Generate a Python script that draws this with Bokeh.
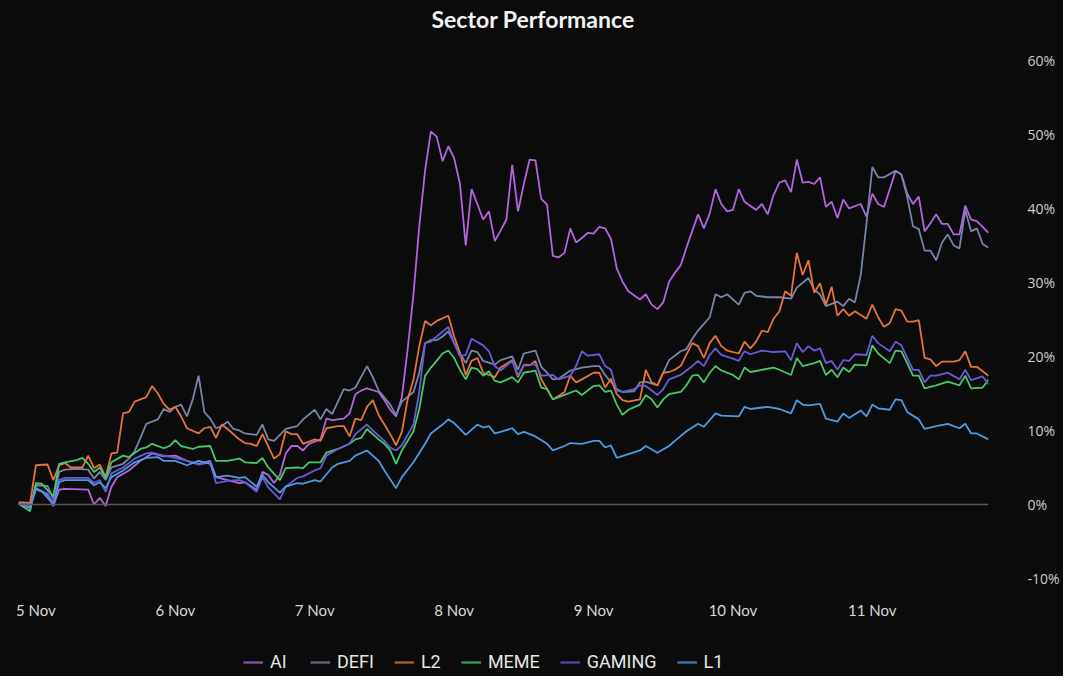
from bokeh.plotting import figure
from bokeh.layouts import column
from bokeh.models import FixedTicker, PrintfTickFormatter, Span, Legend, LegendItem, Title
from bokeh.embed import file_html
from bokeh.resources import INLINE

# ---- data: (hour since 5 Nov 00:00, % change) ----
TICK_HOURS = [3, 27, 51, 75, 99, 123, 147]
TICK_LABELS = ["5 Nov", "6 Nov", "7 Nov", "8 Nov", "9 Nov", "10 Nov", "11 Nov"]
Y_TICKS = [-10, 0, 10, 20, 30, 40, 50, 60]

AI = [(0,0.2),(2,-0.3),(3,2.2),(5,1.3),(6,-0.2),(7,2.0),(8,2.1),(12,2.0),(13,0.0),(14,0.9),(15,-0.2),(16,2.4),
      (17,3.7),(19,4.6),(21,5.9),(23,6.9),(25,6.5),(27,6.6),(29,5.9),(31,5.5),(33,5.9),(34,3.7),(36,3.3),(38,2.9),
      (39,3.0),(41,2.0),(42,4.4),(43,4.0),(44,2.9),(45,4.0),(46,6.9),(47,7.9),(48,7.9),(49,7.3),(50,8.2),(52,8.8),
      (53,11.6),(54,11.4),(56,11.6),(57,12.3),(58,14.9),(59,15.4),(60,15.7),(62,15.2),(63,14.1),(64,12.8),(65,11.9),
      (66,14.5),(67,21.0),(68,28.4),(69,37.6),(70,45.1),(71,50.4),(72,49.7),(73,46.4),(74,48.4),(75,46.8),(76,43.3),
      (77,35.0),(78,42.6),(79,40.6),(80,38.5),(81,39.6),(82,35.6),(83,37.0),(84,38.5),(85,45.9),(86,39.6),(87,43.3),
      (88,46.6),(89,46.5),(90,41.3),(91,40.5),(92,33.6),(93,33.4),(94,34.0),(95,37.3),(96,35.4),(97,36.0),(98,36.7),
      (99,36.6),(100,37.5),(101,37.3),(102,35.9),(103,31.9),(104,30.1),(105,28.8),(107,27.7),(108,28.4),(109,27.0),
      (110,26.4),(111,27.3),(112,30.1),(113,31.3),(114,32.3),(115,34.7),(117,39.2),(118,37.3),(119,39.3),(120,42.6),
      (121,40.6),(122,39.6),(123,39.8),(124,42.6),(125,40.9),(127,39.8),(128,40.6),(129,39.2),(130,41.8),(131,43.5),
      (132,43.8),(133,42.2),(134,46.6),(135,43.5),(136,43.6),(137,43.3),(138,44.2),(139,40.2),(140,40.9),(141,38.7),
      (142,41.2),(143,40.0),(145,40.6),(146,38.9),(147,42.0),(148,40.6),(149,40.2),(150,42.6),(151,45.1),(152,44.6),
      (153,42.0),(154,40.6),(155,41.6),(156,36.9),(157,38.0),(158,39.2),(159,37.9),(160,37.9),(161,36.5),(162,36.5),
      (163,40.4),(164,38.5),(165,38.3),(167,36.7)]

DEFI = [(0,0.2),(2,-0.2),(3,2.6),(5,2.5),(6,0.8),(7,4.4),(8,4.7),(10,4.8),(12,4.7),(13,3.5),(14,4.4),(15,3.3),
        (16,5.0),(18,5.5),(19,6.2),(20,7.2),(21,9.0),(22,10.9),(24,11.5),(25,12.9),(26,12.5),(27,13.2),(28,13.5),
        (29,11.9),(30,14.2),(31,17.4),(32,12.5),(33,11.6),(34,10.3),(35,10.6),(36,11.2),(37,10.2),(38,10.0),(39,9.6),
        (41,9.4),(42,10.8),(43,8.8),(44,8.6),(46,10.2),(48,10.6),(49,11.5),(51,12.8),(52,11.5),(53,12.9),(54,12.2),
        (56,15.6),(57,15.4),(58,15.8),(60,18.7),(61,17.2),(62,15.4),(64,13.5),(65,12.1),(66,13.9),(68,15.2),(69,17.8),
        (70,21.8),(71,22.2),(72,22.2),(73,22.7),(74,23.4),(75,21.8),(77,19.1),(78,20.8),(79,20.6),(80,19.4),(82,18.9),
        (83,19.5),(85,20.0),(86,18.2),(87,20.4),(89,20.8),(90,18.6),(91,17.8),(92,16.9),(93,17.0),(95,18.1),(97,18.5),
        (99,18.7),(100,18.7),(101,17.5),(103,15.6),(104,15.2),(106,15.3),(107,16.5),(108,16.6),(110,16.1),(111,17.8),
        (112,19.5),(114,20.7),(115,21.0),(116,22.4),(117,23.5),(119,25.3),(120,28.4),(121,28.0),(122,28.4),(124,27.0),
        (125,28.6),(126,28.8),(127,28.2),(129,28.0),(131,28.0),(133,27.8),(134,29.3),(136,30.6),(137,29.0),(138,28.4),
        (139,26.8),(141,27.4),(142,26.8),(143,27.8),(144,27.3),(145,31.0),(146,38.0),(147,45.6),(148,44.2),(149,44.2),
        (151,45.1),(152,44.6),(153,41.6),(154,37.6),(155,37.2),(156,34.3),(157,34.3),(158,33.0),(159,35.4),(160,36.5),
        (161,35.0),(162,34.6),(163,39.8),(164,36.9),(165,37.3),(166,35.2),(167,34.7)]

L2 = [(0,0.3),(2,0.2),(3,5.3),(5,5.4),(6,3.3),(7,5.3),(8,5.6),(9,5.0),(11,5.0),(12,6.6),(13,4.9),(14,5.4),(15,3.7),
      (16,6.9),(17,7.0),(18,12.3),(19,12.5),(20,13.9),(21,14.2),(22,14.5),(23,16.0),(24,15.0),(25,13.6),(26,12.8),
      (27,13.2),(28,11.9),(29,10.3),(31,9.6),(32,10.3),(33,10.5),(34,9.0),(35,10.8),(36,10.2),(38,8.8),(39,8.3),
      (40,8.2),(41,7.9),(42,9.5),(44,6.2),(45,6.8),(46,9.9),(47,9.5),(48,9.5),(49,8.2),(51,8.8),(52,8.6),(53,10.3),
      (55,10.6),(56,10.6),(57,9.2),(58,11.6),(59,11.4),(60,13.2),(61,14.1),(62,12.1),(63,10.8),(64,9.5),(65,8.0),
      (66,9.8),(67,14.2),(68,16.9),(69,21.4),(70,24.8),(71,24.2),(72,24.8),(74,25.5),(75,22.7),(76,20.5),(77,17.5),
      (78,19.4),(79,19.8),(80,17.8),(82,17.2),(83,18.5),(85,19.5),(86,17.2),(87,18.8),(88,18.8),(89,19.4),(90,16.9),
      (91,15.6),(92,14.2),(94,15.2),(95,17.4),(96,16.5),(97,16.9),(99,17.8),(100,17.8),(101,15.8),(102,17.0),
      (103,14.9),(104,14.1),(105,13.9),(107,14.2),(108,18.2),(109,16.5),(110,16.1),(111,17.8),(112,17.9),(113,18.2),
      (114,18.7),(116,21.8),(117,21.4),(118,19.8),(119,21.8),(120,22.8),(121,21.4),(122,20.8),(124,20.4),(125,22.0),
      (126,21.1),(127,22.0),(128,23.5),(129,23.3),(130,25.1),(131,26.1),(132,28.8),(133,28.2),(134,34.0),(135,31.0),
      (136,33.0),(137,28.6),(138,29.9),(139,27.0),(140,29.4),(141,25.5),(142,26.4),(143,25.5),(144,26.1),(146,25.1),
      (147,27.0),(148,25.3),(149,24.0),(150,24.5),(151,26.4),(152,26.2),(153,24.7),(154,24.7),(155,24.9),(156,19.8),
      (157,19.6),(158,18.7),(159,19.3),(161,19.3),(162,19.5),(163,20.7),(164,18.6),(165,18.6),(167,17.4)]

MEME = [(0,0.1),(2,-0.9),(3,2.9),(4,2.8),(6,1.1),(7,5.5),(8,5.7),(10,6.0),(11,6.3),(12,5.5),(13,4.4),(14,5.0),
        (15,3.6),(16,5.7),(18,6.6),(19,6.4),(21,7.5),(22,7.7),(23,8.2),(25,7.6),(26,7.9),(27,8.7),(28,7.9),(30,7.5),
        (31,7.8),(33,7.9),(34,5.9),(36,5.9),(38,6.2),(39,5.7),(41,5.6),(42,6.3),(43,5.0),(45,3.3),(46,4.9),(48,5.0),
        (49,4.9),(50,5.7),(52,5.7),(53,7.0),(55,7.5),(57,8.2),(58,8.8),(59,9.0),(60,10.2),(62,8.8),(63,8.2),(64,7.3),
        (65,5.5),(66,7.3),(68,9.9),(69,12.9),(70,17.4),(71,18.5),(72,19.4),(73,20.4),(74,20.8),(75,19.8),(76,18.2),
        (77,16.9),(78,18.5),(79,18.3),(80,17.4),(81,18.0),(82,16.7),(83,16.5),(85,17.2),(86,16.5),(87,17.8),(89,18.1),
        (90,15.8),(91,15.6),(92,14.2),(94,14.8),(96,15.4),(97,14.8),(99,16.0),(100,16.1),(101,15.2),(102,15.4),
        (103,13.5),(104,12.1),(105,12.8),(107,13.5),(108,14.8),(109,14.2),(110,13.1),(111,14.2),(112,14.9),(114,15.2),
        (115,16.1),(116,17.4),(117,17.5),(118,16.5),(119,17.8),(120,18.7),(121,18.1),(123,17.5),(124,16.9),(125,18.5),
        (126,17.9),(128,18.2),(130,18.5),(131,18.2),(133,17.5),(134,19.8),(135,18.7),(137,19.1),(138,19.4),(139,17.5),
        (140,18.2),(141,17.2),(142,18.5),(143,17.9),(144,18.9),(146,18.8),(147,21.5),(148,20.4),(150,19.1),(151,20.8),
        (152,20.7),(153,19.1),(154,17.4),(155,17.4),(156,15.7),(157,15.9),(158,16.1),(160,16.6),(162,16.1),(163,17.4),
        (164,15.7),(166,15.8),(167,16.9)]

GAMING = [(0,0.2),(2,-0.3),(3,2.0),(5,1.5),(6,0.3),(7,3.3),(8,3.6),(12,3.6),(13,2.9),(14,3.3),(15,1.7),(16,4.2),
          (18,5.0),(20,6.2),(22,6.9),(23,7.0),(25,6.6),(27,6.3),(29,5.9),(31,5.4),(33,5.7),(34,2.9),(36,3.2),(38,3.3),
          (39,3.0),(41,1.7),(42,3.7),(43,2.3),(45,0.7),(46,2.4),(48,3.6),(49,3.8),(51,4.6),(52,4.9),(53,6.6),(55,7.5),
          (57,8.2),(58,9.5),(60,10.8),(61,10.0),(63,8.6),(64,7.7),(65,7.3),(66,8.0),(68,10.8),(69,15.2),(70,21.8),
          (71,22.0),(72,22.7),(74,24.0),(75,21.8),(76,20.0),(77,20.2),(78,22.4),(80,21.5),(81,20.7),(82,18.7),(83,18.1),
          (85,19.4),(86,17.4),(87,18.9),(89,18.9),(90,17.4),(92,17.5),(93,16.9),(95,17.4),(96,18.7),(97,20.7),(98,20.1),
          (100,20.3),(101,18.7),(102,18.2),(103,15.4),(104,15.2),(106,15.6),(107,16.1),(108,16.0),(110,14.8),(111,15.6),
          (112,16.9),(114,17.5),(116,18.7),(117,19.4),(118,18.7),(119,20.2),(120,21.1),(121,20.2),(123,19.7),(124,19.4),
          (125,20.7),(126,20.3),(128,20.8),(130,20.6),(132,20.7),(133,19.5),(134,21.8),(135,20.6),(136,21.4),(137,20.8),
          (138,21.1),(139,19.1),(140,19.4),(141,18.2),(142,19.5),(143,19.4),(144,20.3),(146,20.2),(147,22.8),(148,21.8),
          (150,20.7),(151,22.0),(152,21.5),(153,19.8),(154,18.2),(155,18.2),(156,16.5),(157,17.4),(158,17.4),(160,17.8),
          (162,16.9),(163,18.2),(164,16.8),(166,17.3),(167,16.2)]

L1 = [(0,0.1),(2,-0.5),(3,2.2),(4,1.8),(6,0.0),(7,3.0),(8,3.3),(12,3.3),(13,2.6),(14,3.0),(15,2.2),(16,3.7),(18,4.6),
      (20,5.7),(22,6.3),(24,6.4),(25,5.9),(27,5.9),(29,5.3),(31,5.9),(33,5.5),(34,3.7),(36,3.9),(38,3.6),(39,3.7),
      (41,2.4),(42,4.0),(43,3.0),(45,1.6),(46,2.4),(48,2.9),(49,2.8),(51,3.3),(52,3.1),(54,5.0),(55,5.5),(57,5.9),
      (58,6.6),(60,7.3),(62,5.9),(63,4.6),(65,2.2),(66,3.7),(68,5.7),(70,8.2),(71,9.6),(73,10.8),(74,11.5),(75,11.0),
      (77,9.4),(79,10.8),(80,10.4),(81,10.6),(82,9.6),(83,9.8),(85,10.3),(86,9.5),(87,9.8),(89,9.2),(91,8.2),(92,7.3),
      (94,7.9),(95,8.3),(97,8.2),(99,8.6),(100,8.6),(101,7.7),(102,8.0),(103,6.3),(105,6.8),(107,7.3),(108,7.9),
      (110,7.0),(112,7.9),(113,8.6),(115,9.9),(117,10.9),(118,10.5),(120,12.3),(121,12.0),(124,11.9),(125,13.2),
      (126,12.9),(129,13.2),(131,12.9),(133,12.3),(134,14.1),(135,13.5),(136,13.4),(138,13.6),(139,11.6),(141,11.2),
      (142,12.3),(143,11.7),(145,12.7),(146,11.9),(147,13.5),(148,13.0),(150,12.8),(151,14.2),(152,14.1),(153,12.5),
      (155,11.5),(156,10.2),(158,10.6),(160,10.9),(162,10.3),(163,10.9),(164,9.6),(165,9.6),(167,8.8)]

SERIES = [("AI", AI, "#b266dd"), ("DEFI", DEFI, "#7686aa"), ("L2", L2, "#e5733b"),
          ("MEME", MEME, "#46c86a"), ("GAMING", GAMING, "#6a5ad8"), ("L1", L1, "#4a9be0")]

BG = "#0b0b0b"
W = 1063
NAN = float("nan")

# ---------------- main chart ----------------
p = figure(width=W, height=640, output_backend="svg", toolbar_location=None,
           x_range=(0, 167), y_range=(-10, 63.5), y_axis_location="right",
           background_fill_color=BG, border_fill_color=BG,
           min_border_left=18, min_border_right=75, min_border_top=34, min_border_bottom=62)
p.outline_line_color = None
p.styles = {"background-color": BG}

p.title = Title(text="Sector Performance", align="left", offset=413, standoff=4,
                text_color="#f2f2f2", text_font="Lato", text_font_size="23px", text_font_style="bold")

p.xgrid.visible = False
p.ygrid.visible = False

xa = p.xaxis[0]
xa.ticker = FixedTicker(ticks=TICK_HOURS)
xa.major_label_overrides = {h: t for h, t in zip(TICK_HOURS, TICK_LABELS)}
xa.axis_line_color = None
xa.major_tick_line_color = None
xa.minor_tick_line_color = None
xa.major_label_text_color = "#d8d8d8"
xa.major_label_text_font = "Lato"
xa.major_label_text_font_size = "15px"
xa.major_label_standoff = 16

ya = p.yaxis[0]
ya.ticker = FixedTicker(ticks=Y_TICKS)
ya.formatter = PrintfTickFormatter(format="%d%%")
ya.axis_line_color = None
ya.major_tick_line_color = None
ya.minor_tick_line_color = None
ya.major_label_text_color = "#cccccc"
ya.major_label_text_font = "Open Sans"
ya.major_label_text_font_size = "14px"
ya.major_label_standoff = 33

p.add_layout(Span(location=0, dimension="width", line_color="#5a5a5a", line_width=1.5))

for name, data, color in SERIES:
    hs = [d[0] for d in data]
    vs = [d[1] for d in data]
    p.line(hs, vs, line_color=color, line_width=1.8)

# ---------------- legend strip ----------------
lg = figure(width=W, height=36, output_backend="svg", toolbar_location=None,
            x_range=(0, 1), y_range=(0, 1), x_axis_type=None, y_axis_type=None,
            background_fill_color=BG, border_fill_color=BG,
            min_border_left=0, min_border_right=0, min_border_top=0, min_border_bottom=0)
lg.outline_line_color = None
lg.grid.visible = False
lg.styles = {"background-color": BG}

items = []
for name, data, color in SERIES:
    # legend-only renderer (no visible points)
    r = lg.line(x=[NAN, NAN], y=[NAN, NAN], line_color=color, line_width=2.4, line_alpha=0.75)
    items.append(LegendItem(label=name, renderers=[r]))

legend = Legend(items=items, orientation="horizontal", location=(225, 4),
                background_fill_alpha=0, border_line_color=None,
                label_text_color="#e6e6e6", label_text_font="Roboto", label_text_font_size="18px",
                glyph_width=20, spacing=20, label_standoff=7, margin=0, padding=4)
lg.add_layout(legend, "center")

layout = column(p, lg, spacing=0)
layout.styles = {"background-color": BG}

open("out.html", "w").write(file_html(layout, INLINE))
